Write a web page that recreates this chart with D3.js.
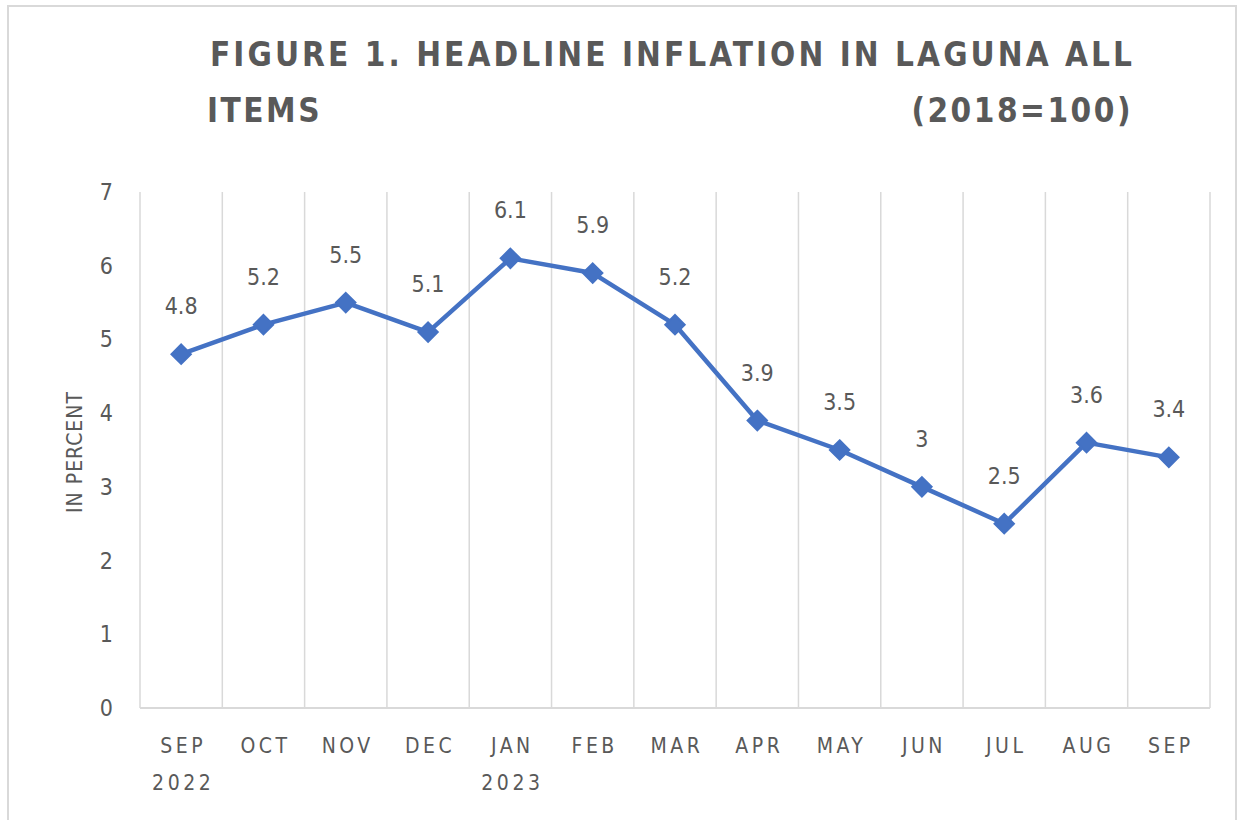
<!DOCTYPE html>
<html>
<head>
<meta charset="utf-8">
<script src="https://cdn.jsdelivr.net/npm/d3@7"></script>
<style>
  body { margin: 0; background: #fff; }
  svg text { font-family: "Liberation Sans Narrow", "DejaVu Sans Condensed", "Roboto", sans-serif; fill: #595959; }
</style>
</head>
<body>
<script>
const width = 1239
const height = 820

// data
const months = ["SEP", "OCT", "NOV", "DEC", "JAN", "FEB", "MAR", "APR", "MAY", "JUN", "JUL", "AUG", "SEP"]
const years = ["2022", "", "", "", "2023", "", "", "", "", "", "", "", ""]
const inflation = [4.8, 5.2, 5.5, 5.1, 6.1, 5.9, 5.2, 3.9, 3.5, 3, 2.5, 3.6, 3.4]
const yTicks = [0, 1, 2, 3, 4, 5, 6, 7]

const margin = {top: 192, right: 29, bottom: 112, left: 140}

const svg = d3.select("body").append("svg")
    .attr("width", width)
    .attr("height", height)

// outer chart border
svg.append("rect")
    .attr("x", 8).attr("y", 6)
    .attr("width", 1228).attr("height", 830)
    .attr("fill", "none")
    .attr("stroke", "#d9d9d9")
    .attr("stroke-width", 2)

const x = d3.scaleBand()
    .domain(d3.range(months.length))
    .range([margin.left, width - margin.right])

const y = d3.scaleLinear()
    .domain([0, 7])
    .range([height - margin.bottom, margin.top])

// vertical gridlines at the category boundaries
const bounds = d3.range(months.length + 1).map(i => margin.left + i * x.step())
svg.append("g").selectAll("line")
    .data(bounds)
    .enter().append("line")
    .attr("x1", d => d).attr("x2", d => d)
    .attr("y1", y(7)).attr("y2", y(0))
    .attr("stroke", "#d9d9d9")
    .attr("stroke-width", 1.5)

// baseline
svg.append("line")
    .attr("x1", margin.left).attr("x2", width - margin.right)
    .attr("y1", y(0)).attr("y2", y(0))
    .attr("stroke", "#d9d9d9")
    .attr("stroke-width", 2)

// y labels
svg.append("g").selectAll("text")
    .data(yTicks)
    .enter().append("text")
    .attr("x", 113)
    .attr("y", d => y(d) + 8)
    .attr("text-anchor", "end")
    .style("font-size", "23px")
    .text(d => d)

// x labels
const xl = svg.append("g").selectAll("g")
    .data(months)
    .enter().append("g")
xl.append("text")
    .attr("x", (d, i) => x(i) + x.bandwidth() / 2 + 2)
    .attr("y", 753)
    .attr("text-anchor", "middle")
    .style("font-size", "21px")
    .style("letter-spacing", "3.5px")
    .text(d => d)
xl.append("text")
    .attr("x", (d, i) => x(i) + x.bandwidth() / 2 + 2)
    .attr("y", 790)
    .attr("text-anchor", "middle")
    .style("font-size", "21px")
    .style("letter-spacing", "3.5px")
    .text((d, i) => years[i])

// axis title
svg.append("text")
    .attr("transform", "translate(82,452) rotate(-90)")
    .attr("text-anchor", "middle")
    .style("font-size", "21px")
    .style("letter-spacing", "1px")
    .text("IN PERCENT")

// title
svg.append("text")
    .attr("x", 210).attr("y", 66)
    .attr("textLength", 922)
    .attr("lengthAdjust", "spacing")
    .style("font-size", "33px")
    .style("font-weight", "bold")
    .text("FIGURE 1. HEADLINE INFLATION IN LAGUNA ALL")
svg.append("text")
    .attr("x", 207).attr("y", 122)
    .style("font-size", "33px")
    .style("font-weight", "bold")
    .style("letter-spacing", "2.5px")
    .text("ITEMS")
svg.append("text")
    .attr("x", 1133).attr("y", 122)
    .attr("text-anchor", "end")
    .style("font-size", "33px")
    .style("font-weight", "bold")
    .style("letter-spacing", "2.5px")
    .text("(2018=100)")

// the line
const line = d3.line()
    .x((d, i) => x(i) + x.bandwidth() / 2)
    .y(d => y(d))

svg.append("path")
    .datum(inflation)
    .attr("d", line)
    .attr("fill", "none")
    .attr("stroke", "#4472c4")
    .attr("stroke-width", 4.5)
    .attr("stroke-linejoin", "round")

svg.append("g").selectAll("path")
    .data(inflation)
    .enter().append("path")
    .attr("d", d3.symbol().type(d3.symbolDiamond2).size(240))
    .attr("transform", (d, i) => `translate(${x(i) + x.bandwidth() / 2},${y(d)})`)
    .attr("fill", "#4472c4")
    .attr("stroke", "#4472c4")
    .attr("stroke-width", 2)

// data labels
svg.append("g").selectAll("text")
    .data(inflation)
    .enter().append("text")
    .attr("x", (d, i) => x(i) + x.bandwidth() / 2)
    .attr("y", d => y(d) - 40)
    .attr("text-anchor", "middle")
    .style("font-size", "23px")
    .text(d => d)
</script>
</body>
</html>
